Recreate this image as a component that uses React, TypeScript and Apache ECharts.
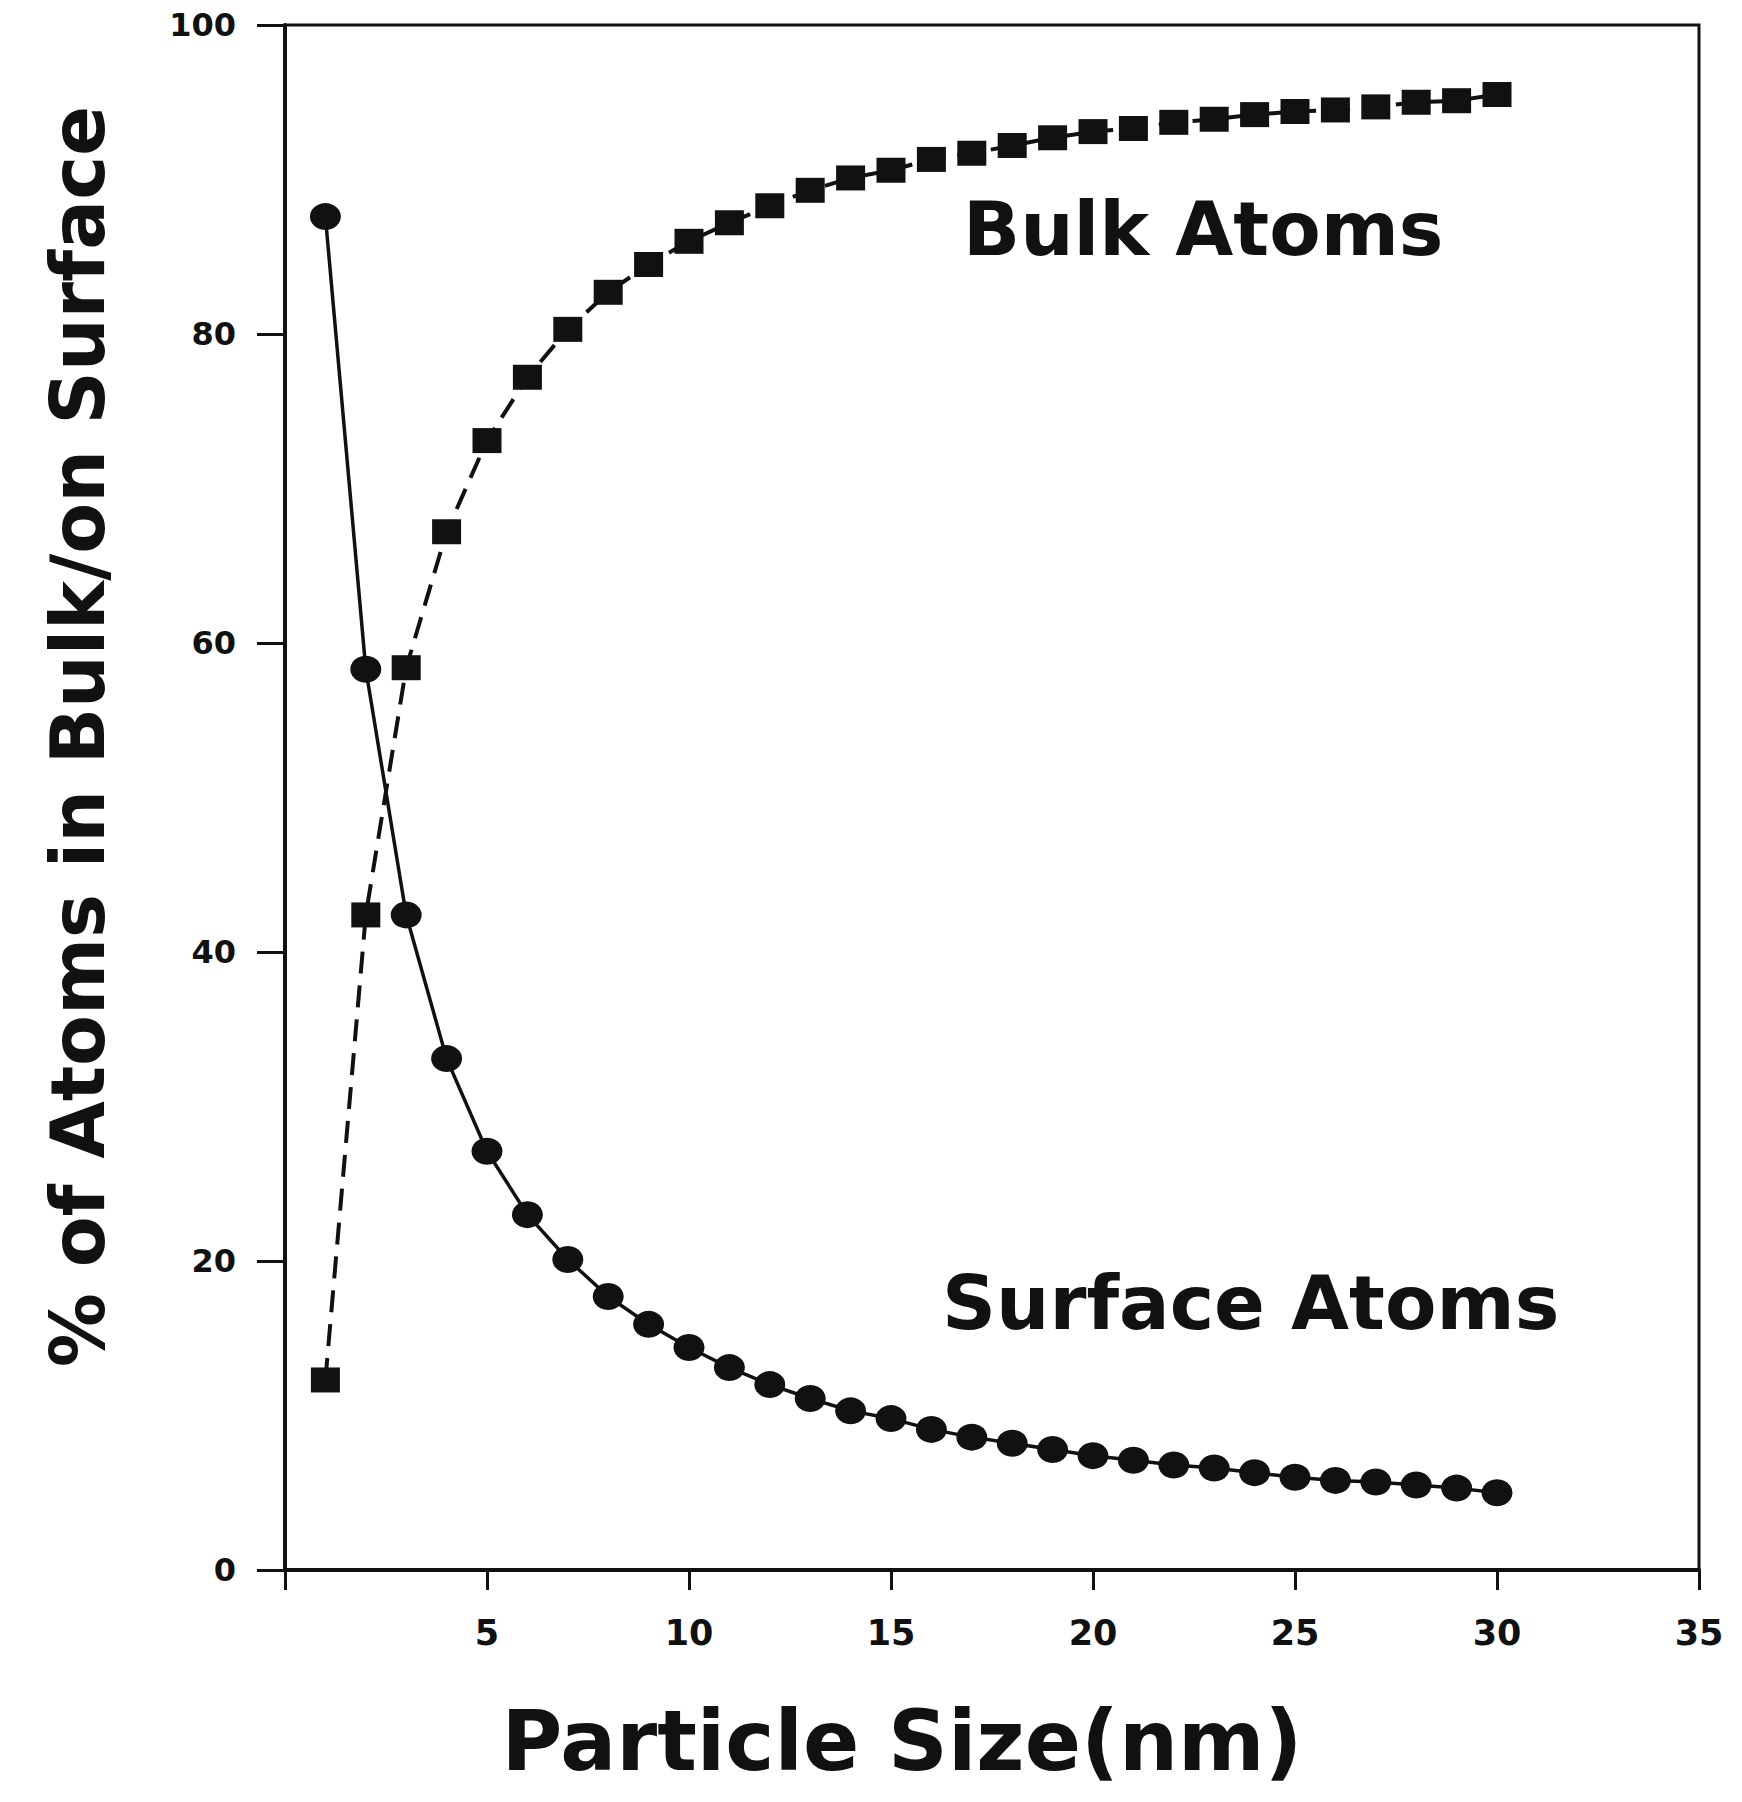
import React, { useEffect, useRef } from "react";
import * as echarts from "echarts";

const particleSize = [1, 2, 3, 4, 5, 6, 7, 8, 9, 10, 11, 12, 13, 14, 15, 16, 17, 18, 19, 20, 21, 22, 23, 24, 25, 26, 27, 28, 29, 30];
const surfaceAtoms = [87.6, 58.3, 42.4, 33.1, 27.1, 23.0, 20.1, 17.7, 15.9, 14.4, 13.1, 12.0, 11.1, 10.3, 9.8, 9.1, 8.6, 8.2, 7.8, 7.4, 7.1, 6.8, 6.6, 6.3, 6.0, 5.8, 5.7, 5.5, 5.3, 5.0];
const bulkAtoms = [12.3, 42.4, 58.4, 67.2, 73.1, 77.2, 80.3, 82.7, 84.5, 86.0, 87.2, 88.3, 89.3, 90.1, 90.6, 91.3, 91.7, 92.2, 92.7, 93.1, 93.3, 93.7, 93.9, 94.2, 94.4, 94.5, 94.7, 95.0, 95.1, 95.5];
const xTicks = [0, 5, 10, 15, 20, 25, 30, 35];
const yTicks = [0, 20, 40, 60, 80, 100];

const FONT = "DejaVu Sans";
const INK = "#111";

export default function App() {
  const ref = useRef<HTMLDivElement>(null);
  useEffect(() => {
    if (!ref.current) return;
    const chart = echarts.init(ref.current, null, { renderer: "svg" });
    const surfaceData = particleSize.map((x, i) => [x, surfaceAtoms[i]]);
    const bulkData = particleSize.map((x, i) => [x, bulkAtoms[i]]);
    chart.setOption({
      animation: false,
      backgroundColor: "#fff",
      grid: {
        left: 285,
        top: 25,
        right: 43,
        bottom: 232,
        show: true,
        borderColor: INK,
        borderWidth: 3,
        backgroundColor: "transparent",
      },
      xAxis: {
        type: "value",
        min: xTicks[0],
        max: xTicks[xTicks.length - 1],
        interval: 5,
        axisLine: { show: true, onZero: false, lineStyle: { color: INK, width: 4 } },
        axisTick: { show: true, inside: false, length: 20, lineStyle: { color: INK, width: 3 } },
        axisLabel: {
          margin: 45,
          color: INK,
          fontFamily: FONT,
          fontWeight: "bold",
          fontSize: 35,
          formatter: (v: number) => (v === 0 ? "" : String(v)),
        },
        splitLine: { show: false },
        name: "Particle Size(nm)",
        nameLocation: "middle",
        nameGap: 130,
        nameTextStyle: {
          color: INK,
          fontFamily: FONT,
          fontWeight: "bold",
          fontSize: 83,
          padding: [0, 180, 0, 0],
        },
      },
      yAxis: {
        type: "value",
        min: yTicks[0],
        max: yTicks[yTicks.length - 1],
        interval: 20,
        axisLine: { show: true, onZero: false, lineStyle: { color: INK, width: 4 } },
        axisTick: { show: true, inside: false, length: 28, lineStyle: { color: INK, width: 3 } },
        axisLabel: {
          margin: 49,
          color: INK,
          fontFamily: FONT,
          fontWeight: "bold",
          fontSize: 32,
        },
        splitLine: { show: false },
        name: "% of Atoms in Bulk/on Surface",
        nameLocation: "middle",
        nameGap: 170,
        nameRotate: 90,
        nameTextStyle: {
          color: INK,
          fontFamily: FONT,
          fontWeight: "bold",
          fontSize: 74,
          padding: [0, 0, 0, 122],
        },
      },
      series: [
        {
          name: "Surface Atoms",
          type: "line",
          data: surfaceData,
          symbol: "circle",
          symbolSize: [31, 27],
          itemStyle: { color: INK },
          lineStyle: { color: INK, width: 3.5, type: "solid" },
          z: 3,
        },
        {
          name: "Bulk Atoms",
          type: "line",
          data: bulkData,
          symbol: "rect",
          symbolSize: [29, 25],
          itemStyle: { color: INK },
          lineStyle: { color: INK, width: 4, type: [22, 12] },
          z: 3,
        },
      ],
      graphic: [
        {
          type: "text",
          left: 963,
          top: 236 - 45,
          style: {
            text: "Bulk Atoms",
            fill: INK,
            font: `bold 75px "${FONT}"`,
          },
        },
        {
          type: "text",
          left: 942,
          top: 1310 - 45,
          style: {
            text: "Surface Atoms",
            fill: INK,
            font: `bold 75px "${FONT}"`,
          },
        },
      ],
    });
    return () => chart.dispose();
  }, []);
  return (
    <div
      ref={ref}
      style={{ position: "fixed", left: 0, top: 0, width: 1742, height: 1802, background: "#fff" }}
    />
  );
}
